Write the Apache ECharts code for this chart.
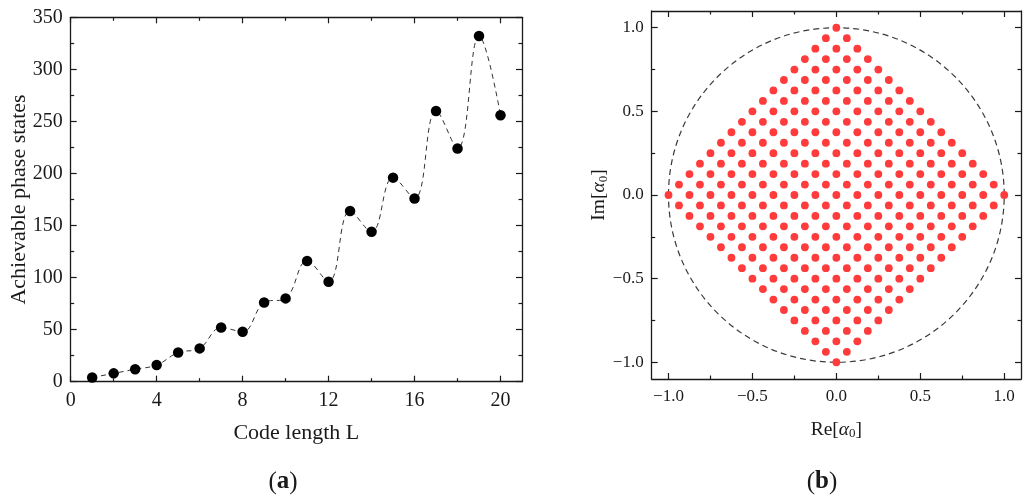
<!DOCTYPE html>
<html>
<head>
<meta charset="utf-8">
<script src="https://cdn.jsdelivr.net/npm/echarts@6/dist/echarts.min.js"></script>
<style>
  html, body { margin: 0; padding: 0; background: #fff; }
  #main { width: 1030px; height: 501px; }
</style>
</head>
<body>
<div id="main"></div>
<script>
// (a) code length vs achievable phase states
const codeLength = [1, 2, 3, 4, 5, 6, 7, 8, 9, 10, 11, 12, 13, 14, 15, 16, 17, 18, 19, 20];
const phaseStates = [4, 8, 12, 16, 28, 32, 52, 48, 76, 80, 116, 96, 164, 144, 196, 176, 260, 224, 332, 256];
const lTicks = [0, 4, 8, 12, 16, 20];
const lMinor = [2, 6, 10, 14, 18];
const sTicks = [0, 50, 100, 150, 200, 250, 300, 350];
const sMinor = [25, 75, 125, 175, 225, 275, 325];

// (b) constellation, in units of 1/16; rows listed by |Im|*16 (0..16), same Re set for +Im and -Im
const imRows = [-16, -15, -14, -13, -12, -11, -10, -9, -8, -7, -6, -5, -4, -3, -2, -1, 0,
  1, 2, 3, 4, 5, 6, 7, 8, 9, 10, 11, 12, 13, 14, 15, 16];
const reByRow = [
  [-16, -14, -12, -10, -8, -6, -4, -2, 0, 2, 4, 6, 8, 10, 12, 14, 16],
  [-15, -13, -11, -9, -7, -5, -3, -1, 1, 3, 5, 7, 9, 11, 13, 15],
  [-14, -12, -10, -8, -6, -4, -2, 0, 2, 4, 6, 8, 10, 12, 14],
  [-13, -11, -9, -7, -5, -3, -1, 1, 3, 5, 7, 9, 11, 13],
  [-12, -10, -8, -6, -4, -2, 0, 2, 4, 6, 8, 10, 12],
  [-11, -9, -7, -5, -3, -1, 1, 3, 5, 7, 9, 11],
  [-10, -8, -6, -4, -2, 0, 2, 4, 6, 8, 10],
  [-9, -7, -5, -3, -1, 1, 3, 5, 7, 9],
  [-8, -6, -4, -2, 0, 2, 4, 6, 8],
  [-7, -5, -3, -1, 1, 3, 5, 7],
  [-6, -4, -2, 0, 2, 4, 6],
  [-5, -3, -1, 1, 3, 5],
  [-4, -2, 0, 2, 4],
  [-3, -1, 1, 3],
  [-2, 0, 2],
  [-1, 1],
  [0]
];
const unitCircle = [[0, 0, 1]];
const aTicks = [-1, -0.5, 0, 0.5, 1];
const aMinor = [-0.75, -0.25, 0.25, 0.75];

const FONT = 'Liberation Serif';
const INK = '#1a1a1a';

const constellation = [];
imRows.forEach(function (im) {
  reByRow[Math.abs(im)].forEach(function (re) {
    constellation.push([re / 16, im / 16]);
  });
});

function fmtSigned(v) {
  return (v < 0 ? '\u2212' : '') + Math.abs(v).toFixed(1);
}

// four axes per direction: labelled main, its minor ticks, mirrored major, mirrored minor
function frame(grid, dim, min, max, major, minor, fmt, labelSize, name, nameSize, nameGap) {
  const pos = dim === 'x' ? ['bottom', 'top'] : ['left', 'right'];
  const base = { type: 'value', gridIndex: grid, min: min, max: max, splitLine: { show: false } };
  const line = { show: true, onZero: false, lineStyle: { color: INK, width: 1.3 } };
  const noLine = { show: false, onZero: false };
  const tick = function (vals, len) {
    return { inside: true, length: len, customValues: vals, lineStyle: { color: INK, width: 1.2 } };
  };
  return [
    Object.assign({}, base, {
      position: pos[0],
      axisLine: line,
      axisTick: tick(major, 6),
      axisLabel: {
        customValues: major, formatter: fmt, color: INK, fontFamily: FONT, fontSize: labelSize,
        margin: dim === 'x' ? 9 : 8
      },
      name: name, nameLocation: 'middle', nameGap: nameGap, nameMoveOverlap: false,
      nameTextStyle: {
        color: INK, fontFamily: FONT, fontSize: nameSize,
        rich: {
          i: { fontFamily: FONT, fontSize: nameSize, fontStyle: 'italic', color: INK },
          s: { fontFamily: FONT, fontSize: 13, color: INK, verticalAlign: 'bottom', padding: [8, 0, 0, 0] }
        }
      }
    }),
    Object.assign({}, base, { position: pos[0], axisLine: noLine, axisTick: tick(minor, 3.5), axisLabel: { show: false } }),
    Object.assign({}, base, { position: pos[1], axisLine: line, axisTick: tick(major, 6), axisLabel: { show: false } }),
    Object.assign({}, base, { position: pos[1], axisLine: noLine, axisTick: tick(minor, 3.5), axisLabel: { show: false } })
  ];
}

const chart = echarts.init(document.getElementById('main'), null, { renderer: 'canvas' });

const caption = function (letter, x, y) {
  return {
    type: 'text', x: x, y: y,
    style: {
      text: '({b|' + letter + '})', align: 'center', verticalAlign: 'middle',
      fontFamily: FONT, fontSize: 25, fill: INK,
      rich: { b: { fontFamily: FONT, fontSize: 25, fontWeight: 'bold', fill: INK } }
    }
  };
};

const option = {
  animation: false,
  backgroundColor: '#fff',
  grid: [
    { left: 70.7, top: 17.3, width: 451.3, height: 364.4 },
    { left: 651.7, top: 11, width: 369.3, height: 368 }
  ],
  xAxis: [].concat(
    frame(0, 'x', 0, 21, lTicks, lMinor, function (v) { return String(v); }, 20, 'Code length L', 22, 41),
    frame(1, 'x', -1.1, 1.1, aTicks, aMinor, fmtSigned, 17, 'Re[{i|\u03b1}{s|0}]', 19.5, 40)
  ),
  yAxis: [].concat(
    frame(0, 'y', 0, 350, sTicks, sMinor, function (v) { return String(v); }, 20, 'Achievable phase states', 22, 40),
    frame(1, 'y', -1.1, 1.1, aTicks, aMinor, fmtSigned, 17, 'Im[{i|\u03b1}{s|0}]', 19.5, 42)
  ),
  graphic: [caption('a', 283, 482), caption('b', 822, 482)],
  series: [
    {
      type: 'line',
      xAxisIndex: 0, yAxisIndex: 0,
      data: codeLength.map(function (l, i) { return [l, phaseStates[i]]; }),
      smooth: 0.4,
      symbol: 'circle', symbolSize: 10.5,
      itemStyle: { color: '#000' },
      lineStyle: { color: '#333', width: 1, type: [5, 4] }
    },
    {
      type: 'custom',
      xAxisIndex: 4, yAxisIndex: 4,
      data: unitCircle,
      encode: { x: 0, y: 1 },
      silent: true,
      renderItem: function (params, api) {
        const c = api.coord([api.value(0), api.value(1)]);
        const r = api.size([api.value(2), api.value(2)]);
        return {
          type: 'ellipse',
          shape: { cx: c[0], cy: c[1], rx: r[0], ry: r[1] },
          style: { fill: 'none', stroke: '#3a3a3a', lineWidth: 1.2, lineDash: [6, 4] }
        };
      }
    },
    {
      type: 'scatter',
      xAxisIndex: 4, yAxisIndex: 4,
      data: constellation,
      symbol: 'circle', symbolSize: 7.8,
      itemStyle: { color: '#ff3b3b', opacity: 1 }
    }
  ]
};

chart.setOption(option);
</script>
</body>
</html>
